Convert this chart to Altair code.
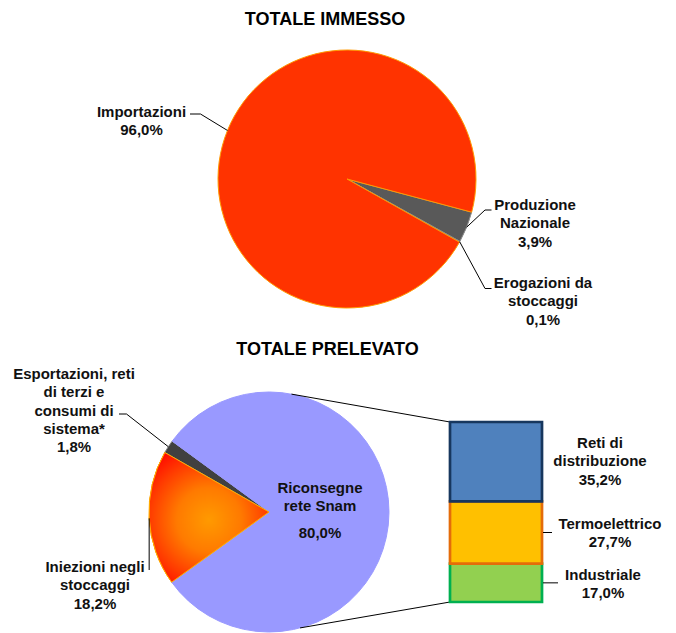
import math
import altair as alt
import pandas as pd

# ---------------- data ----------------
immesso_cat = ["Produzione Nazionale", "Erogazioni da stoccaggi", "Importazioni"]
immesso_val = [3.9, 0.1, 96.0]
immesso_lines = [["Produzione", "Nazionale"], ["Erogazioni da", "stoccaggi"], ["Importazioni"]]

prelevato_cat = ["Iniezioni negli stoccaggi",
                 "Esportazioni, reti di terzi e consumi di sistema*",
                 "Riconsegne rete Snam"]
prelevato_val = [18.2, 1.8, 80.0]
prelevato_lines = [["Iniezioni negli", "stoccaggi"],
                   ["Esportazioni, reti", "di terzi e", "consumi di", "sistema*"],
                   ["Riconsegne", "rete Snam"]]

snam_cat = ["Reti di distribuzione", "Termoelettrico", "Industriale"]
snam_val = [35.2, 27.7, 17.0]
snam_lines = [["Reti di", "distribuzione"], ["Termoelettrico"], ["Industriale"]]

titles = ["TOTALE IMMESSO", "TOTALE PRELEVATO"]

# ---------------- styles / layout ----------------
W, H = 676, 633
FONT = "Liberation Sans"
LH = 18.3
immesso_fill = ["#595959", "#595959", "#FF3300"]
immesso_stroke = ["#8C8C8C", "#8C8C8C", "#FF9A00"]
prelevato_fill = ["#FF2A00", "#404040", "#9999FF"]
prelevato_stroke = ["#FFB000", "#7F7F7F", "#9999FF"]
snam_fill = ["#4F81BD", "#FFC000", "#92D050"]
snam_stroke = ["#17375E", "#E46C0A", "#00B050"]

TOP_C, TOP_R, TOP_START = (347, 179), 129, 104.9
BOT_C, BOT_R, BOT_START = (269, 512), 120, 234.2
BAR_X0, BAR_X1, BAR_BOTTOM, BAR_TOP = 450, 542, 602, 422


def pct(v):
    return f"{v:.1f}".replace(".", ",") + "%"


def pie_df(cats, vals):
    return pd.DataFrame({"cat": cats, "val": vals, "ord": list(range(len(cats)))})


def mid_angles(vals, start_deg):
    tot = sum(vals)
    out, cum = [], 0.0
    for v in vals:
        out.append(math.radians(start_deg) + 2 * math.pi * (cum + v / 2) / tot)
        cum += v
    return out


def edge_point(center, r, ang):
    return (center[0] + r * math.sin(ang), center[1] - r * math.cos(ang))


def pie(cats, vals, center, r, start_deg, fills, strokes):
    start = math.radians(start_deg)
    theta = alt.Theta("val:Q", stack=True,
                      scale=alt.Scale(domain=[0, sum(vals)], range=[start, start + 2 * math.pi]))
    return alt.Chart(pie_df(cats, vals)).mark_arc(
        radius=r, x=center[0], y=center[1], strokeWidth=1
    ).encode(
        theta=theta,
        color=alt.Color("cat:N", scale=alt.Scale(domain=cats, range=fills), legend=None),
        stroke=alt.Stroke("cat:N", scale=alt.Scale(domain=cats, range=strokes), legend=None),
        order=alt.Order("ord:Q"),
    )


top_pie = pie(immesso_cat, immesso_val, TOP_C, TOP_R, TOP_START, immesso_fill, immesso_stroke)
bot_pie = pie(prelevato_cat, prelevato_val, BOT_C, BOT_R, BOT_START, prelevato_fill, prelevato_stroke)

# radial gradient overlay for "Iniezioni negli stoccaggi"
grad = alt.RadialGradient(
    gradient="radial",
    stops=[alt.GradientStop(color="#FF9A00", offset=0),
           alt.GradientStop(color="#FF7A00", offset=0.4),
           alt.GradientStop(color="#FF3A00", offset=0.75),
           alt.GradientStop(color="#FF0800", offset=1)],
    x1=0.5, y1=0.52, r1=0, x2=0.5, y2=0.52, r2=0.62,
)
bs = math.radians(BOT_START)
grad_layer = alt.Chart(pie_df(prelevato_cat, prelevato_val)).mark_arc(
    radius=BOT_R, x=BOT_C[0], y=BOT_C[1], fill=grad, stroke="#FFB000", strokeWidth=1
).encode(
    theta=alt.Theta("val:Q", stack=True,
                    scale=alt.Scale(domain=[0, sum(prelevato_val)], range=[bs, bs + 2 * math.pi])),
    order=alt.Order("ord:Q"),
    opacity=alt.condition(alt.datum.cat == prelevato_cat[0], alt.value(1), alt.value(0)),
)

# ---------------- stacked bar ----------------
cum, mids = 0.0, []
for v in reversed(snam_val):
    mids.append(cum + v / 2)
    cum += v
mids = list(reversed(mids))
bar_df = pd.DataFrame({"cat": snam_cat, "val": snam_val, "ord": [0, 1, 2], "mid": mids})
y_scale = alt.Scale(domain=[0, sum(snam_val)], range=[BAR_BOTTOM, BAR_TOP], nice=False, zero=True)

bars = alt.Chart(bar_df).transform_stack(
    stack="val", groupby=[], as_=["y0", "y1"],
    sort=[alt.SortField("ord", order="descending")]
).mark_bar(strokeWidth=2.7).encode(
    x=alt.value(BAR_X0), x2=alt.value(BAR_X1),
    y=alt.Y("y0:Q", scale=y_scale, axis=None), y2="y1:Q",
    color=alt.Color("cat:N", scale=alt.Scale(domain=snam_cat, range=snam_fill), legend=None),
    stroke=alt.Stroke("cat:N", scale=alt.Scale(domain=snam_cat, range=snam_stroke), legend=None),
    order=alt.Order("ord:Q", sort="descending"),
)
rule_term = alt.Chart(bar_df[bar_df.cat == "Termoelettrico"]).mark_rule(color="black", strokeWidth=1).encode(
    y=alt.Y("mid:Q", scale=y_scale, axis=None), x=alt.value(BAR_X1 + 1), x2=alt.value(552))
rule_ind = alt.Chart(bar_df[bar_df.cat == "Industriale"]).mark_rule(color="black", strokeWidth=1).encode(
    y=alt.Y("mid:Q", scale=y_scale, axis=None), x=alt.value(BAR_X1 + 1), x2=alt.value(558))

p_top = edge_point(BOT_C, BOT_R, math.radians(10.8))
p_bot = edge_point(BOT_C, BOT_R, math.radians(165))
ends = pd.DataFrame({"e": [sum(snam_val), 0.0]})
conn_top = alt.Chart(ends.iloc[[0]]).mark_rule(color="black", strokeWidth=1).encode(
    y=alt.Y("e:Q", scale=y_scale, axis=None), x=alt.value(BAR_X0),
    x2=alt.value(p_top[0]), y2=alt.value(p_top[1]))
conn_bot = alt.Chart(ends.iloc[[1]]).mark_rule(color="black", strokeWidth=1).encode(
    y=alt.Y("e:Q", scale=y_scale, axis=None), x=alt.value(BAR_X0),
    x2=alt.value(p_bot[0]), y2=alt.value(p_bot[1]))

bar_layer = alt.layer(conn_top, conn_bot, bars, rule_term, rule_ind)

# ---------------- leader lines ----------------
ta = mid_angles(immesso_val, TOP_START)
ba = mid_angles(prelevato_val, BOT_START)
a_prod = edge_point(TOP_C, TOP_R, ta[0])
a_ero = edge_point(TOP_C, TOP_R, ta[1])
a_imp = edge_point(TOP_C, TOP_R, ta[2])
a_ini = edge_point(BOT_C, BOT_R, ba[0])
a_esp = edge_point(BOT_C, BOT_R, ba[1])

leaders = [
    [(190, 114), (200.5, 114), a_imp],
    [a_prod, (485, 210), (491.5, 210)],
    [a_ero, (485, 288.5), (491.5, 288.5)],
    [(119, 414), (126.5, 414), a_esp],
    [(a_ini[0], 570), a_ini],
]
lrows = []
for g, pts in enumerate(leaders):
    for k, (px, py) in enumerate(pts):
        lrows.append({"g": g, "k": k, "px": px, "py": py})
lead = alt.Chart(pd.DataFrame(lrows)).mark_line(color="black", strokeWidth=1).encode(
    x=alt.X("px:Q", scale=None), y=alt.Y("py:Q", scale=None),
    detail="g:N", order="k:Q")

# ---------------- labels (y = first line) ----------------
def block(lines, v):
    return "\n".join(lines + [pct(v)])

lab_rows = [
    {"t": block(immesso_lines[2], immesso_val[2]), "px": 141.5, "py": 112},
    {"t": block(immesso_lines[0], immesso_val[0]), "px": 535, "py": 205},
    {"t": block(immesso_lines[1], immesso_val[1]), "px": 543, "py": 283},
    {"t": block(prelevato_lines[1], prelevato_val[1]), "px": 74, "py": 374},
    {"t": block(prelevato_lines[0], prelevato_val[0]), "px": 95, "py": 567},
    {"t": "\n".join(prelevato_lines[2]), "px": 320, "py": 488},
    {"t": pct(prelevato_val[2]), "px": 320, "py": 533},
    {"t": block(snam_lines[0], snam_val[0]), "px": 600, "py": 443},
    {"t": block(snam_lines[1], snam_val[1]), "px": 610, "py": 523.5},
    {"t": block(snam_lines[2], snam_val[2]), "px": 603, "py": 574.5},
]
labels = alt.Chart(pd.DataFrame(lab_rows)).mark_text(
    font=FONT, fontWeight="bold", fontSize=15, lineBreak="\n", lineHeight=LH,
    align="center", baseline="middle", color="#111111"
).encode(x=alt.X("px:Q", scale=None), y=alt.Y("py:Q", scale=None), text="t:N")

title_df = pd.DataFrame({"t": titles, "px": [325, 327.5], "py": [20, 350]})
title_marks = alt.Chart(title_df).mark_text(
    font=FONT, fontWeight="bold", fontSize=18, align="center", baseline="middle", color="black"
).encode(x=alt.X("px:Q", scale=None), y=alt.Y("py:Q", scale=None), text="t:N")

chart = alt.layer(
    top_pie, bot_pie, grad_layer, bar_layer, lead, labels, title_marks
).resolve_scale(
    x="independent", y="independent", theta="independent",
    color="independent", stroke="independent", opacity="independent"
).properties(
    width=W, height=H, padding=0, autosize=alt.AutoSizeParams(type="none"),
    background="white"
).configure_view(stroke=None)

chart.save("out.html", embed_options={"renderer": "svg", "actions": False})
